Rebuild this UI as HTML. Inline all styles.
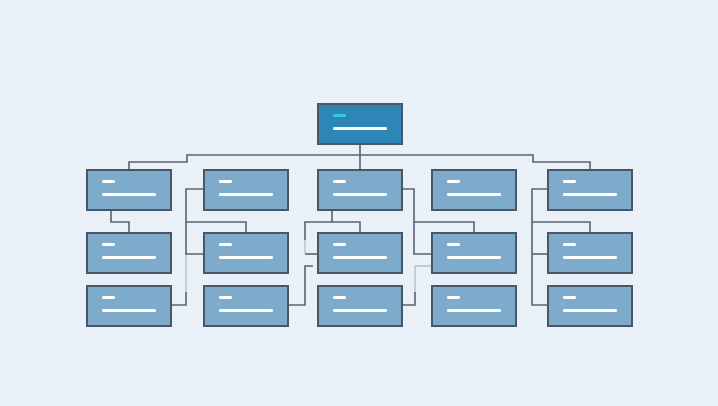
<!DOCTYPE html>
<html><head><style>html,body{margin:0;padding:0;background:#eaf0f8;}svg{display:block}</style></head>
<body>
<svg width="718" height="406" viewBox="0 0 718 406" xmlns="http://www.w3.org/2000/svg">
<rect width="718" height="406" fill="#eaf0f8"/>
<g fill="none" stroke="#5a6270" stroke-width="1.6">
<polyline points="129,170 129,162 187,162 187,155 533,155 533,162 590,162 590,170"/>
<line x1="360" y1="144" x2="360" y2="170"/>
<polyline points="111,210 111,222 129,222 129,233"/>
<polyline points="204,189 186,189 186,255"/>
<polyline points="186,222 246,222 246,233"/>
<line x1="186" y1="254" x2="204" y2="254"/>
<polyline points="186,292 186,305 171,305"/>
<polyline points="332,210 332,222 305,222 305,240"/>
<polyline points="332,222 360,222 360,233"/>
<polyline points="305,254 318,254"/>
<polyline points="288,305 305,305 305,266 313,266"/>
<polyline points="402,189 414,189 414,254 432,254"/>
<polyline points="414,222 474,222 474,233"/>
<polyline points="402,305 415,305 415,292"/>
<polyline points="548,189 532,189 532,305 548,305"/>
<line x1="532" y1="254" x2="548" y2="254"/>
<polyline points="532,222 590,222 590,233"/>
</g>
<g fill="none" stroke="#b8bec8" stroke-width="1.4">
<line x1="186" y1="255" x2="186" y2="292"/>
<line x1="305" y1="240" x2="305" y2="254"/>
<polyline points="415,292 415,266 432,266"/>
</g>
<g stroke="#4a5566" stroke-width="2" fill="#7eabcc">
<rect x="318" y="104" width="84" height="40" fill="#2e86b6"/>
<rect x="87" y="170" width="84" height="40"/><rect x="204" y="170" width="84" height="40"/><rect x="318" y="170" width="84" height="40"/><rect x="432" y="170" width="84" height="40"/><rect x="548" y="170" width="84" height="40"/>
<rect x="87" y="233" width="84" height="40"/><rect x="204" y="233" width="84" height="40"/><rect x="318" y="233" width="84" height="40"/><rect x="432" y="233" width="84" height="40"/><rect x="548" y="233" width="84" height="40"/>
<rect x="87" y="286" width="84" height="40"/><rect x="204" y="286" width="84" height="40"/><rect x="318" y="286" width="84" height="40"/><rect x="432" y="286" width="84" height="40"/><rect x="548" y="286" width="84" height="40"/>
</g>
<g fill="#ffffff">
<rect x="333" y="114" width="13" height="3" rx="1.5" fill="#2fd0dc"/><rect x="333" y="127" width="54" height="3" rx="1.5"/>
<g id="r1">
<rect x="102" y="180" width="13" height="3" rx="1.5"/><rect x="102" y="193" width="54" height="3" rx="1.5"/>
<rect x="219" y="180" width="13" height="3" rx="1.5"/><rect x="219" y="193" width="54" height="3" rx="1.5"/>
<rect x="333" y="180" width="13" height="3" rx="1.5"/><rect x="333" y="193" width="54" height="3" rx="1.5"/>
<rect x="447" y="180" width="13" height="3" rx="1.5"/><rect x="447" y="193" width="54" height="3" rx="1.5"/>
<rect x="563" y="180" width="13" height="3" rx="1.5"/><rect x="563" y="193" width="54" height="3" rx="1.5"/>
</g>
<use href="#r1" y="63"/>
<use href="#r1" y="116"/>
</g>
</svg>
</body></html>
